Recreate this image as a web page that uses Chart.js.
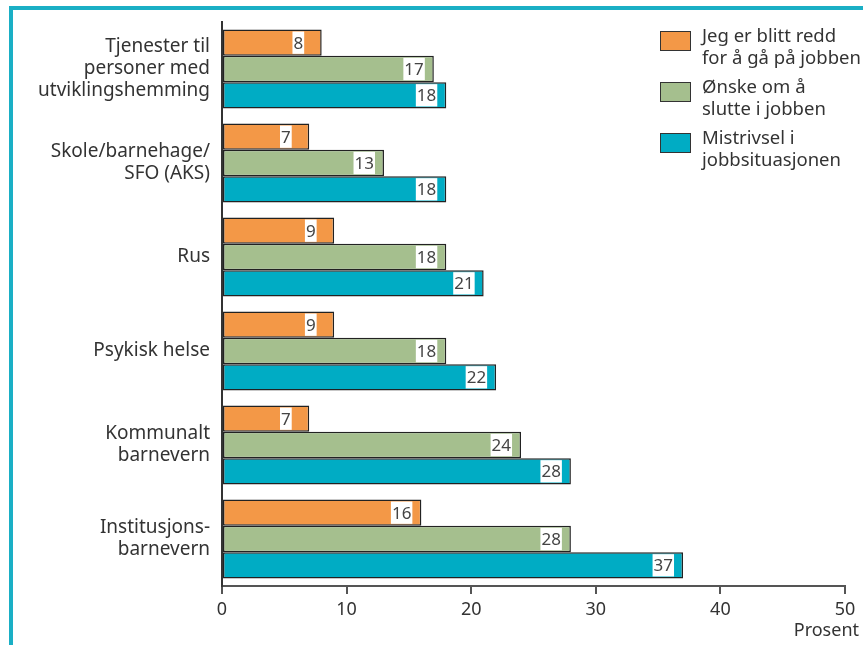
<!DOCTYPE html>
<html>
<head>
<meta charset="utf-8">
<script src="https://cdn.jsdelivr.net/npm/chart.js@4"></script>
<style>
    html, body { margin: 0; padding: 0; background: #fff; overflow: hidden; }
    #wrap { position: relative; width: 863px; height: 645px; overflow: hidden; }
    #frame {
        position: absolute; left: 9px; top: 6px; width: 900px; height: 700px;
        border-top: 4px solid #1aafc5; border-left: 4px solid #1aafc5;
    }
    canvas { position: absolute; left: 0; top: 0; }
    #legend {
        position: absolute; left: 660px; top: 24px; width: 220px; white-space: nowrap;
        font-family: "Noto Sans", sans-serif; font-size: 18.5px; color: #333;
    }
    .item { position: relative; height: 51px; padding-left: 42px; line-height: 22px; }
    .swatch { position: absolute; left: 0; top: 7px; width: 29px; height: 18px; border: 1.5px solid #333; }
</style>
</head>
<body>
<div id="wrap">
    <div id="frame"></div>
    <canvas id="chart" width="863" height="645"></canvas>
    <div id="legend"></div>
</div>
<script>
const categories = [
    ['Tjenester til', 'personer med', 'utviklingshemming'],
    ['Skole/barnehage/', 'SFO (AKS)'],
    'Rus',
    'Psykisk helse',
    ['Kommunalt', 'barnevern'],
    ['Institusjons-', 'barnevern']
];
const seriesNames = [
    ['Jeg er blitt redd', 'for å gå på jobben'],
    ['Ønske om å', 'slutte i jobben'],
    ['Mistrivsel i', 'jobbsituasjonen']
];
const seriesColors = ['#f39847', '#a5bf8e', '#00acc4'];
const redd = [8, 7, 9, 9, 7, 16];
const slutte = [17, 13, 18, 18, 24, 28];
const mistrivsel = [18, 18, 21, 22, 28, 37];
const xTicks = [0, 10, 20, 30, 40, 50];

const FONT = '"Noto Sans", sans-serif';

// value boxes inside the bar ends, plus the axis unit
const valueLabels = {
    id: 'valueLabels',
    afterDatasetsDraw(chart) {
        const ctx = chart.ctx;
        ctx.save();
        ctx.font = '17px ' + FONT;
        ctx.textAlign = 'center';
        ctx.textBaseline = 'middle';
        chart.data.datasets.forEach((ds, di) => {
            chart.getDatasetMeta(di).data.forEach((bar, i) => {
                const txt = String(ds.data[i]);
                const w = ctx.measureText(txt).width + 2;
                const right = bar.x - 9 - (txt.length === 1 ? 8.5 : 0);
                const cx = right - w / 2;
                const h = bar.height - 4;
                ctx.fillStyle = '#fff';
                ctx.fillRect(cx - w / 2, bar.y - h / 2, w, h);
                ctx.fillStyle = '#444';
                ctx.fillText(txt, cx, bar.y + 1);
            });
        });
        ctx.font = '18px ' + FONT;
        ctx.textAlign = 'right';
        ctx.fillStyle = '#333';
        ctx.fillText('Prosent', 859, 631);
        ctx.restore();
    }
};

new Chart(document.getElementById('chart'), {
    type: 'bar',
    data: {
        labels: categories,
        datasets: [redd, slutte, mistrivsel].map((d, i) => ({
            label: seriesNames[i].join(' '),
            data: d,
            backgroundColor: seriesColors[i],
            borderColor: '#222',
            borderWidth: 1.5,
            borderSkipped: false,
            barPercentage: 1,
            categoryPercentage: 0.84
        }))
    },
    options: {
        indexAxis: 'y',
        responsive: false,
        animation: false,
        layout: { padding: { top: 22, right: 18, left: 0, bottom: 0 } },
        plugins: { legend: { display: false }, tooltip: { enabled: false } },
        scales: {
            x: {
                min: 0,
                max: 50,
                afterBuildTicks: (s) => { s.ticks = xTicks.map(v => ({ value: v })); },
                afterFit: (s) => { s.height = 59; s.paddingRight = 0; },
                grid: { drawOnChartArea: false, drawTicks: true, tickLength: 8, color: '#555', lineWidth: 2 },
                border: { display: true, color: '#555', width: 2 },
                ticks: { color: '#333', font: { family: FONT, size: 18 }, padding: 5, maxRotation: 0 }
            },
            y: {
                afterFit: (s) => { s.width = 222; s.paddingTop = 0; s.paddingBottom = 0; },
                grid: { display: false, drawTicks: false },
                border: { display: true, color: '#333', width: 2 },
                ticks: { color: '#333', font: { family: FONT, size: 19, lineHeight: 1.16 }, padding: 12 }
            }
        }
    },
    plugins: [valueLabels]
});

const legend = document.getElementById('legend');
seriesNames.forEach((lines, i) => {
    const item = document.createElement('div');
    item.className = 'item';
    item.innerHTML = `<span class="swatch" style="background:${seriesColors[i]}"></span>${lines.join('<br>')}`;
    legend.appendChild(item);
});
</script>
</body>
</html>
